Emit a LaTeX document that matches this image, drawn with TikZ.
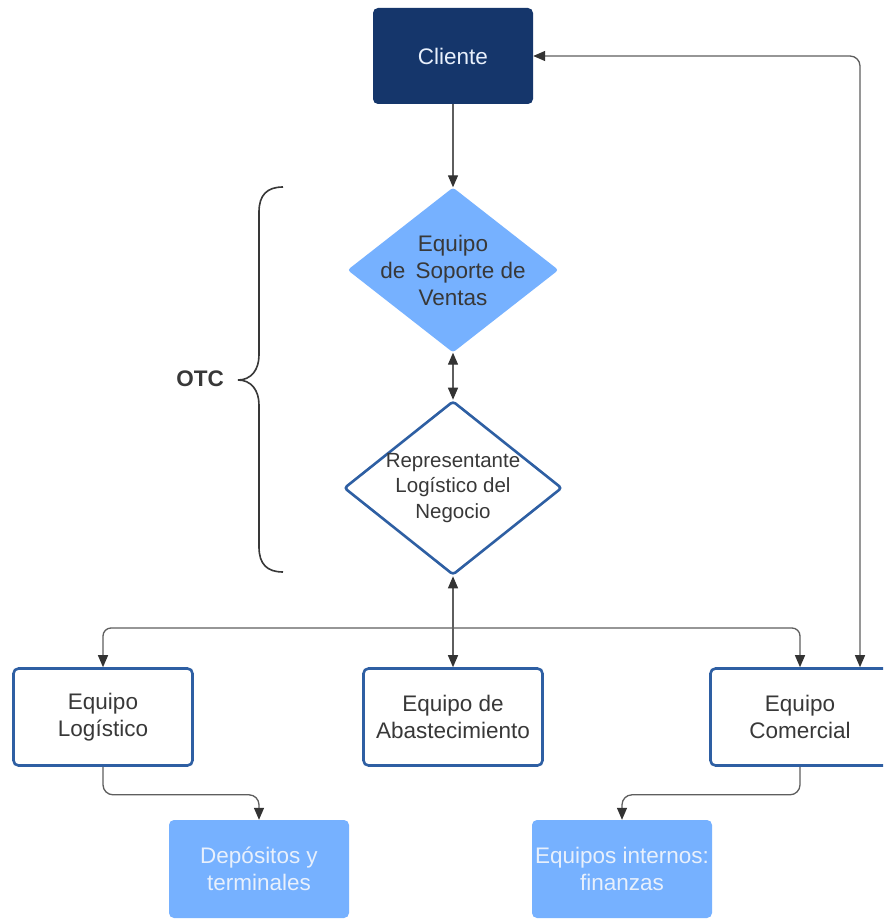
\documentclass[tikz,border=0pt]{standalone}
\usepackage{fontspec}
\setmainfont{Liberation Sans}
\usetikzlibrary{shapes.geometric,arrows.meta}

\definecolor{navy}{HTML}{15366B}
\definecolor{skyfill}{HTML}{76B1FF}
\definecolor{edgeblue}{HTML}{2E5FA3}
\definecolor{linegray}{HTML}{5E5E5E}
\definecolor{tipgray}{HTML}{333333}
\definecolor{textdark}{HTML}{383838}
\definecolor{textlight}{HTML}{E8F0FC}

\newcommand{\txtmain}{\fontsize{22.5}{27}\selectfont}
\newcommand{\txtsmall}{\fontsize{20.5}{25.5}\selectfont}

\tikzset{
  txt/.style={align=center, text=textdark, font=\txtmain},
  whitebox/.style={draw=edgeblue, line width=2.6pt, fill=white, rounded corners=5pt,
    minimum width=179pt, minimum height=97pt, inner sep=0pt, txt},
  skybox/.style={fill=skyfill, rounded corners=5pt, minimum width=180pt,
    minimum height=98pt, inner sep=0pt, align=center, text=textlight, font=\txtmain},
  navybox/.style={fill=navy, rounded corners=5pt, minimum width=160pt,
    minimum height=96pt, inner sep=0pt, text=textlight, font=\txtmain},
  tip/.style={Triangle[length=12pt,width=10pt,fill=tipgray,color=tipgray]},
  conn/.style={draw=linegray, line width=1.3pt, arrows={-{Triangle[length=12pt,width=10pt,fill=tipgray,color=tipgray]}}},
  dconn/.style={draw=linegray, line width=1.3pt,
    arrows={{Triangle[length=12pt,width=10pt,fill=tipgray,color=tipgray]}-{Triangle[length=12pt,width=10pt,fill=tipgray,color=tipgray]}}},
}

\begin{document}
\begin{tikzpicture}[x=1pt, y=-1pt]
  \clip (0,0) rectangle (883,920);
  \fill[white] (0,0) rectangle (883,920);

  % top client node
  \node[navybox] (cliente) at (453,56) {Cliente};

  % decision-style nodes
  \node[diamond, fill=skyfill, rounded corners=3pt, inner sep=0pt,
        minimum width=211pt, minimum height=165pt,
        label={[txt]center:Equipo\\de\hspace{0.45em}Soporte de\\Ventas}] (dsv) at (453,270) {};
  \node[diamond, draw=edgeblue, line width=2.6pt, fill=white, rounded corners=3pt,
        inner sep=0pt, minimum width=218pt, minimum height=174pt,
        label={[align=center, text=textdark, font=\txtsmall]center:Representante\\Logístico del\\Negocio}] (rln) at (453,488) {};

  % team boxes
  \node[whitebox] (log) at (103,717) {Equipo\\Logístico};
  \node[whitebox] (aba) at (453,717) {Equipo de\\Abastecimiento};
  \node[whitebox] (com) at (800,717) {Equipo\\Comercial};

  % lower boxes
  \node[skybox] (dep) at (259,869) {Depósitos y\\terminales};
  \node[skybox] (fin) at (622,869) {Equipos internos:\\finanzas};

  % OTC brace and label
  \draw[draw=textdark, line width=1.6pt]
    (283,187) .. controls (267,187) and (259,195) .. (259,212)
    -- (259,355) .. controls (259,370) and (251,380) .. (238,380)
    .. controls (251,380) and (259,390) .. (259,405)
    -- (259,547) .. controls (259,564) and (267,572) .. (283,572);
  \node[font=\txtmain\bfseries, text=textdark] (otc) at (200,379) {OTC};

  % connectors
  \coordinate (j) at (453,628);
  \draw[conn] (cliente.south) -- (dsv.north);
  \draw[dconn] (dsv.south) -- (rln.north);
  \draw[conn] (j) -- (rln.south);
  \draw[conn] (j) -- (aba.north);
  \draw[conn, rounded corners=8pt] (j) -| (log.north);
  \draw[conn, rounded corners=8pt] (j) -| (com.north);
  \draw[dconn, rounded corners=10pt] ([xshift=60pt]com.north) |- (cliente.east);
  \draw[conn, rounded corners=10pt] (log.south) -- ++(0,28) -| (dep.north);
  \draw[conn, rounded corners=10pt] (com.south) -- ++(0,28) -| (fin.north);
\end{tikzpicture}
\end{document}
